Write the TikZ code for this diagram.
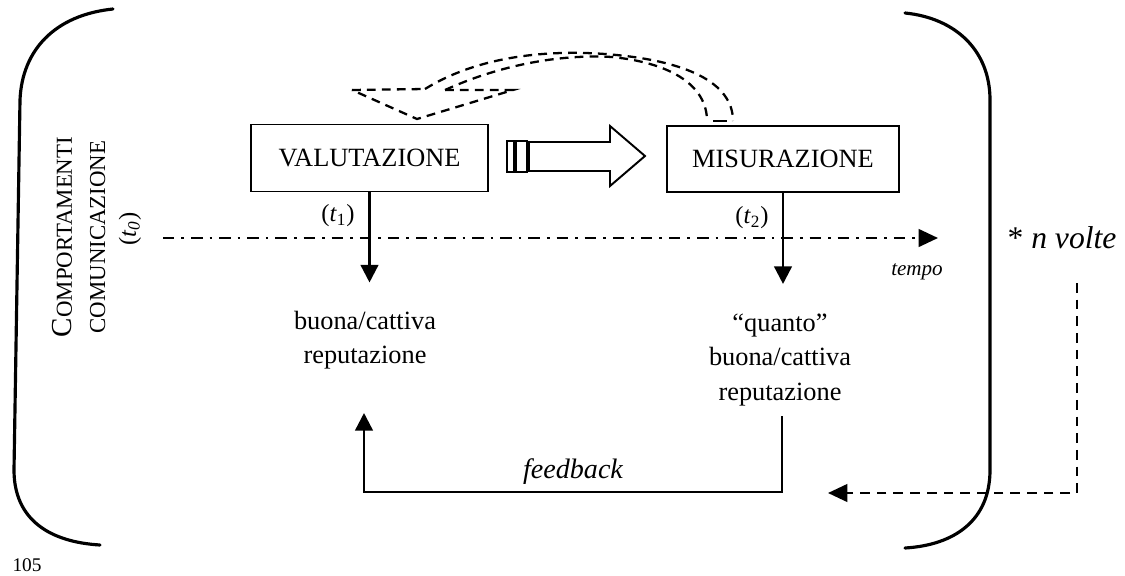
\documentclass[tikz,border=0pt]{standalone}
\usepackage{fontspec}
\setmainfont{Liberation Serif}
\usetikzlibrary{arrows.meta}
\tikzset{
  box/.style={draw, line width=1.1pt, minimum width=4.74cm, minimum height=1.34cm, font=\fontsize{15}{17}\selectfont},
  bigtext/.style={align=center, font=\fontsize{15}{19.5}\selectfont},
  flow/.style={line width=1.4pt, -{Triangle[width=10pt,length=10pt]}},
  bracket/.style={line width=1.8pt, line cap=round},
  loopdash/.style={line width=1.3pt, dash pattern=on 5pt off 3.5pt},
}
\begin{document}
\begin{tikzpicture}[x=0.02cm, y=-0.02cm]
\useasboundingbox (0,0) rectangle (1125,575);
% brackets
\draw[bracket] (113,9) .. controls (55,15) and (22,50) .. (20,100) -- (14,470) .. controls (14,520) and (50,542) .. (100,545);
\draw[bracket] (905,13) .. controls (955,18) and (990,50) .. (990,100) -- (990,470) .. controls (990,520) and (955,545) .. (905,548);
% left labels
\node[rotate=90, align=center, font=\fontsize{13}{19}\selectfont] (comport) at (79,237) {{\fontsize{16.5}{19}\selectfont C}OMPORTAMENTI\\COMUNICAZIONE};
\node[rotate=90, font=\fontsize{14}{16}\selectfont] (tzero) at (130,229) {(\textit{t}\textsubscript{\textit{0}})};
% boxes
\node[box] (valut) at (369.5,158) {VALUTAZIONE};
\node[box, minimum width=4.64cm, minimum height=1.32cm] (misur) at (783,159) {MISURAZIONE};
% hollow arrow between boxes
\draw[line width=1.1pt] (507,141) rectangle (514,172);
\draw[line width=1.1pt] (516,141) rectangle (527,172);
\draw[line width=1.1pt] (529,142) -- (610,142) -- (610,126) -- (645,156) -- (610,186) -- (610,171) -- (529,171) -- cycle;
% dashed loop back
\coordinate (loopTip) at (352,90);
\coordinate (loopLow) at (417,119);
\coordinate (loopRight) at (513,90);
\coordinate (outerStart) at (425,89);
\coordinate (innerStart) at (445,90);
\coordinate (outerEnd) at (733,121);
\coordinate (innerEnd) at (707,121);
\draw[loopdash] (loopTip) -- (outerStart);
\draw[loopdash] (innerStart) -- (loopRight) -- (loopLow) -- (loopTip);
\draw[loopdash] (outerStart) .. controls (480,55) and (550,50) .. (605,54) .. controls (685,60) and (733,82) .. (outerEnd);
\draw[loopdash] (innerStart) .. controls (500,65) and (560,54) .. (612,57) .. controls (672,63) and (707,86) .. (innerEnd);
\draw[line width=1.3pt] (713,121) -- (727,121);
% time axis
\coordinate (axisA) at (163,238);
\coordinate (axisB) at (938,238);
\draw[line width=1.4pt, dash pattern=on 6.5pt off 4pt on 1.5pt off 4pt, -{Triangle[width=10pt,length=11pt]}] (axisA) -- (axisB);
\node[font=\fontsize{14}{16}\selectfont] (tone) at (338,216) {(\textit{t}\textsubscript{1})};
\node[font=\fontsize{14}{16}\selectfont] (ttwo) at (752,218) {(\textit{t}\textsubscript{2})};
\node[font=\itshape\fontsize{12}{14}\selectfont] (tempo) at (917,272) {tempo};
\node[font=\fontsize{18}{20}\selectfont] (nvolte) at (1062,238) {* \textit{n volte}};
% downward arrows
\draw[flow] (valut.south) -- ++(0,90);
\draw[flow] (misur.south) -- ++(0,91);
% reputation
\node[bigtext] (repL) at (365,340) {buona/cattiva\\reputazione};
\node[bigtext] (repR) at (780,360) {“quanto”\\buona/cattiva\\reputazione};
% feedback
\coordinate (fbR) at (782,416);
\coordinate (fbC) at (782,492);
\coordinate (fbL) at (364,413);
\draw[flow] (fbR) -- (fbC) -| node[pos=0.25, above, font=\itshape\fontsize{16}{18}\selectfont] (fbtext) {feedback} (fbL);
% repeat
\coordinate (rtTop) at (1077,283);
\coordinate (rtCorner) at (1077,493);
\coordinate (rtEnd) at (828,493);
\draw[line width=1.4pt, dash pattern=on 5.5pt off 4pt, -{Triangle[width=10pt,length=11pt]}] (rtTop) -- (rtCorner) -- (rtEnd);
\node[font=\fontsize{11}{13}\selectfont] (pagenum) at (27,565) {105};
\end{tikzpicture}
\end{document}
